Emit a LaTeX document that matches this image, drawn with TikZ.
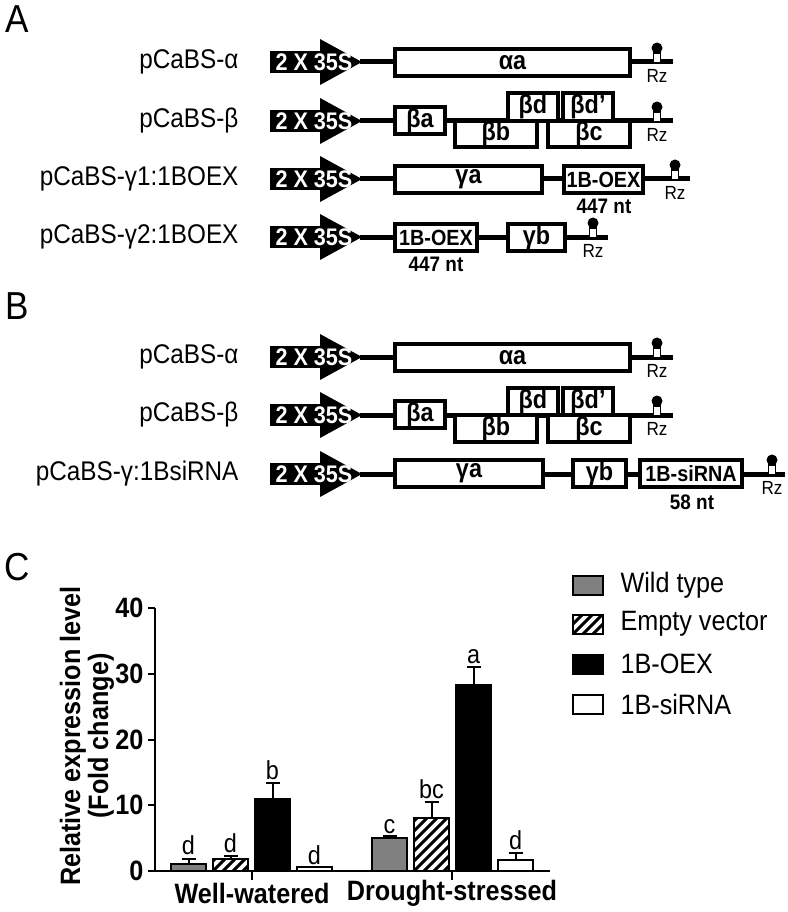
\documentclass[tikz,border=0pt]{standalone}
\usepackage{fontspec}
\setmainfont{Liberation Sans}[FakeStretch=0.9]
\newcommand\myfs[1]{\fontsize{#1}{#1}\selectfont}
\newcommand\smlb{\myfs{22}}
\newcommand\gb[6]{\node[gbox,minimum width={(#4-#2)*1pt},minimum height={(#5-#3)*1pt}] (#1) at ({(#2+#4)/2},{(#3+#5)/2}) {#6};}
\newcommand\prom[2]{\fill (270,{#2-11}) rectangle (322,{#2+11});
  \fill (320,{#2-23}) -- (362,#2) -- (320,{#2+23}) -- cycle;
  \node[promtxt] (#1) at (314,{#2+0.5}) {2 X 35S};}
\newcommand\bbone[3]{\coordinate (#1s) at (360,#2); \coordinate (#1e) at (#3,#2); \draw[bb] (#1s) -- (#1e);}
\newcommand\rz[3]{\draw[line width=1.8pt,fill=white] ({#2-3.5},#3) -- ({#2-3.5},{#3-9}) -- ({#2+3.5},{#3-9}) -- ({#2+3.5},#3);
  \fill (#2,{#3-14}) circle (5.5);
  \node[rzt] (#1) at (#2,{#3+14}) {Rz};}
\newcommand\hatch[4]{\begin{scope}\clip (#1,#2) rectangle (#3,#4);
  \foreach \k in {-90,-80,...,60} {\draw[line width=3pt] ({#1+\k},#2) -- ({#1+\k+90},{#2-90});}
  \end{scope}}
\newcommand\ebar[3]{\draw[axl] (#1,#2) -- (#1,#3); \draw[axl] ({#1-7},#3) -- ({#1+7},#3);}
\begin{document}
\begin{tikzpicture}[x=1pt,y=-1pt,
  lab/.style={anchor=east,font=\myfs{27}},
  plet/.style={font=\myfs{39}},
  gbox/.style={draw,fill=white,line width=3.5pt,inner sep=0pt,font=\bfseries\myfs{26}},
  promtxt/.style={text=white,font=\bfseries\myfs{24}},
  bb/.style={line width=5pt},
  rzt/.style={font=\myfs{19}},
  ntt/.style={font=\bfseries\myfs{21}},
  axl/.style={line width=2pt},
  barst/.style={draw,line width=2pt},
  tickl/.style={anchor=east,font=\bfseries\myfs{28}},
  sig/.style={anchor=base,font=\myfs{26}},
  legt/.style={anchor=west,font=\myfs{28}},
  axt/.style={font=\bfseries\myfs{28}}]
\useasboundingbox (0,0) rectangle (787,912);
% panel letters
\node[plet] (LA) at (17,19) {A};
\node[plet] (LB) at (17,306) {B};
\node[plet] (LC) at (17,567) {C};
% ---------- Panel A ----------
\node[lab] (la1) at (242,62) {pCaBS-α};
\node[lab] (la2) at (242,121) {pCaBS-β};
\node[lab] (la3) at (242,179) {pCaBS-γ1:1BOEX};
\node[lab] (la4) at (242,237) {pCaBS-γ2:1BOEX};
% row A1
\bbone{a1}{62}{673}
\prom{pa1}{62}
\gb{a1a}{395}{49}{630}{76}{αa}
\rz{rza1}{657}{62}
% row A2
\bbone{a2}{121}{673}
\prom{pa2}{121}
\gb{a2a}{395}{107}{445}{134}{βa}
\gb{a2b}{455}{121}{537}{147}{βb}
\gb{a2c}{548}{121}{630}{147}{βc}
\gb{a2d}{508}{93}{558}{121}{βd}
\gb{a2dd}{563}{93}{613}{121}{βd’}
\rz{rza2}{657}{121}
% row A3
\bbone{a3}{179}{690}
\prom{pa3}{179}
\gb{a3a}{395}{166}{542}{193}{γa}
\gb{a3o}{564}{166}{643}{193}{\smlb 1B-OEX}
\node[ntt] (a3n) at (604,206) {447 nt};
\rz{rza3}{675}{179}
% row A4
\bbone{a4}{237}{608}
\prom{pa4}{237}
\gb{a4o}{395}{224}{477}{251}{\smlb 1B-OEX}
\node[ntt] (a4n) at (436,264) {447 nt};
\gb{a4b}{508}{224}{565}{251}{γb}
\rz{rza4}{593}{237}
% ---------- Panel B ----------
\node[lab] (lb1) at (242,357) {pCaBS-α};
\node[lab] (lb2) at (242,415) {pCaBS-β};
\node[lab] (lb3) at (242,474) {pCaBS-γ:1BsiRNA};
% row B1
\bbone{b1}{357}{673}
\prom{pb1}{357}
\gb{b1a}{395}{344}{630}{371}{αa}
\rz{rzb1}{657}{357}
% row B2
\bbone{b2}{415}{673}
\prom{pb2}{415}
\gb{b2a}{395}{401}{445}{428}{βa}
\gb{b2b}{455}{415}{537}{442}{βb}
\gb{b2c}{548}{415}{630}{442}{βc}
\gb{b2d}{508}{388}{558}{415}{βd}
\gb{b2dd}{563}{388}{613}{415}{βd’}
\rz{rzb2}{657}{415}
% row B3
\bbone{b3}{474}{785}
\prom{pb3}{474}
\gb{b3a}{395}{460}{543}{487}{γa}
\gb{b3b}{573}{460}{626}{487}{γb}
\gb{b3s}{640}{460}{742}{487}{\smlb 1B-siRNA}
\node[ntt] (b3n) at (692,502) {58 nt};
\rz{rzb3}{772}{474}
% ---------- Panel C ----------
% bars well-watered
\draw[barst,fill=gray] (171,871) rectangle (206,863.8);
\hatch{213}{871}{248}{859.2}
\draw[barst] (213,871) rectangle (248,859.2);
\draw[barst,fill=black] (255,871) rectangle (290,799.3);
\draw[barst,fill=white] (297,871) rectangle (332,867.1);
% bars drought-stressed
\draw[barst,fill=gray] (372,871) rectangle (407,838.1);
\hatch{414}{871}{449}{818.4}
\draw[barst] (414,871) rectangle (449,818.4);
\draw[barst,fill=black] (456,871) rectangle (491,684.9);
\draw[barst,fill=white] (498,871) rectangle (533,859.8);
% error bars
\ebar{188.5}{863.8}{858.5}
\ebar{230.5}{859.2}{855.9}
\ebar{272.5}{799.3}{782.9}
\ebar{389.5}{838.1}{836.2}
\ebar{431.5}{818.4}{802.0}
\ebar{473.5}{684.9}{667.2}
\ebar{515.5}{859.8}{852.6}
% significance letters
\node[sig] (s1) at (188.5,854) {d};
\node[sig] (s2) at (230.5,852) {d};
\node[sig] (s3) at (272.5,779) {b};
\node[sig] (s4) at (314.5,864) {d};
\node[sig] (s5) at (389.5,833) {c};
\node[sig] (s6) at (431.5,798) {bc};
\node[sig] (s7) at (473.5,663) {a};
\node[sig] (s8) at (515.5,849) {d};
% axes
\coordinate (ytop) at (155,608);
\coordinate (orig) at (155,871);
\coordinate (xend) at (550,871);
\draw[axl] (ytop) -- (orig) -- (xend);
\foreach \v/\yy in {0/871,10/805.25,20/739.5,30/673.75,40/608} {
  \draw[axl] (148,\yy) -- (155,\yy);
  \node[tickl] (t\v) at (147,\yy) {\v};
}
\draw[axl] (252,871) -- (252,880);
\draw[axl] (452,871) -- (452,880);
\node[axt] (xw) at (252,893) {Well-watered};
\node[axt] (xd) at (452,893) {Drought-stressed};
\node[axt,rotate=90] (yl1) at (73,736) {Relative expression level};
\node[axt,rotate=90] (yl2) at (101,736) {(Fold change)};
% legend
\draw[barst,fill=gray] (573,576) rectangle (603,595);
\node[legt] (lg1) at (617,585) {Wild type};
\hatch{573}{634}{603}{615}
\draw[barst] (573,615) rectangle (603,634);
\node[legt] (lg2) at (617,624) {Empty vector};
\draw[barst,fill=black] (573,655) rectangle (603,674);
\node[legt] (lg3) at (617,664) {1B-OEX};
\draw[barst,fill=white] (573,695) rectangle (603,714);
\node[legt] (lg4) at (617,704) {1B-siRNA};
\end{tikzpicture}
\end{document}
